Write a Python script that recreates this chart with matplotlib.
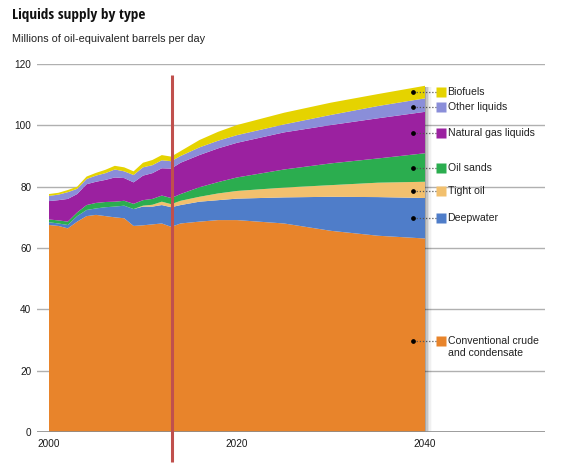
import numpy as np
import matplotlib.pyplot as plt
from matplotlib import font_manager

# ---- data ----
years = [2000, 2001, 2002, 2003, 2004, 2005, 2006, 2007, 2008, 2009, 2010,
         2011, 2012, 2013, 2014, 2016, 2018, 2020, 2025, 2030, 2035, 2040]

conventional = [67.5, 67.2, 66.4, 68.6, 70.4, 70.8, 70.4, 70.0, 69.7, 67.2, 67.4,
                67.7, 68.0, 66.9, 68.0, 68.6, 69.1, 69.1, 68.0, 65.6, 64.0, 63.1]
deepwater = [0.9, 0.8, 1.1, 1.8, 2.0, 2.1, 2.9, 3.5, 4.1, 5.5, 6.1,
             5.8, 6.0, 6.4, 6.0, 6.5, 6.5, 7.0, 8.5, 11.1, 12.6, 13.2]
tight_oil = [0, 0, 0, 0, 0, 0, 0, 0, 0, 0, 0.3,
             0.6, 1.1, 1.0, 1.4, 1.6, 2.2, 2.5, 3.2, 3.8, 4.7, 5.3]
oil_sands = [0.9, 1.0, 1.1, 1.2, 1.6, 1.8, 1.7, 1.6, 1.6, 1.7, 1.8,
             1.9, 2.0, 2.0, 2.2, 3.1, 3.7, 4.4, 5.9, 7.1, 7.9, 9.3]
ngl = [6.0, 6.6, 7.4, 6.0, 6.8, 6.9, 7.2, 7.9, 7.4, 7.0, 8.0,
       8.4, 8.9, 9.6, 10.2, 10.5, 11.0, 11.3, 12.1, 12.5, 13.1, 13.5]
other_liquids = [1.7, 1.8, 2.2, 1.7, 1.7, 2.0, 2.2, 2.6, 2.2, 2.4, 2.7,
                 2.6, 2.6, 2.4, 2.2, 2.5, 2.5, 2.5, 2.6, 3.3, 4.0, 4.4]
biofuels = [0.6, 0.6, 0.7, 0.7, 0.8, 0.9, 1.1, 1.2, 1.3, 1.2, 1.5,
            1.7, 1.7, 1.5, 1.6, 2.4, 2.9, 3.3, 3.8, 4.0, 3.9, 4.1]

labels = ['Conventional crude\nand condensate', 'Deepwater', 'Tight oil',
          'Oil sands', 'Natural gas liquids', 'Other liquids', 'Biofuels']
colors = ['#E8842B', '#4F7DC9', '#F2C06E', '#2BAD4F', '#9B21A0', '#8A8ED9', '#E5D300']
label_y = [29.7, 69.8, 78.6, 86.1, 97.5, 106.0, 110.9]
base_year = 2013.1

# pick a condensed face for the title if one is installed
installed = {f.name for f in font_manager.fontManager.ttflist}
title_font = 'Liberation Sans'
for cand in ['Liberation Sans Narrow', 'Noto Sans Condensed', 'DejaVu Sans Condensed',
             'Open Sans Condensed', 'Roboto Condensed']:
    if cand in installed:
        title_font = cand
        break

fig = plt.figure(figsize=(5.7, 4.65), dpi=100)
ax = fig.add_axes([37 / 570, 33 / 465, 508 / 570, 368 / 465])

# grid
for v in range(20, 121, 20):
    ax.axhline(v, color='#b0b0b0', lw=1, zorder=0)
ax.axhline(0, color='#8c8c8c', lw=1.2, zorder=4)

series = [conventional, deepwater, tight_oil, oil_sands, ngl, other_liquids, biofuels]
total = np.sum(series, axis=0)

# soft shadow on the right edge of the area
for i, a in enumerate([0.16, 0.11, 0.07, 0.04, 0.02]):
    ax.fill_between([2040, 2040 + 0.15 * (i + 1)], 0, total[-1] - 0.5,
                    color='k', alpha=a, lw=0, zorder=1)
ax.stackplot(years, series, colors=colors, lw=0, zorder=2)

# base year marker
ax.plot([base_year, base_year], [-9.8, 116.4], color='#C0504D', lw=2.2,
        solid_capstyle='butt', clip_on=False, zorder=5)

# legend with leader lines
for lab, col, yv in zip(labels, colors, label_y):
    ax.plot([2038.7, 2041.3], [yv, yv], ls=(0, (1, 1.5)), color='#555555', lw=0.9,
            zorder=6, clip_on=False)
    ax.plot(2038.7, yv, 'o', color='black', ms=2.4, zorder=7)
    ax.plot(2041.7, yv, 's', color=col, ms=6.5, mec='none', zorder=7)
    if '\n' in lab:
        ax.text(2042.4, yv + 1.5, lab, va='top', fontsize=7.6, color='#222222',
                family='Liberation Sans', linespacing=1.2)
    else:
        ax.text(2042.4, yv, lab, va='center', fontsize=7.6, color='#222222',
                family='Liberation Sans')

ax.set_xlim(2000 - 12 / 9.4, 2000 + 496 / 9.4)
ax.set_ylim(0, 120)
ax.set_yticks(range(0, 121, 20))
ax.set_xticks([2000, 2020, 2040])
ax.tick_params(length=0, labelsize=7.2, colors='#1a1a1a')
ax.tick_params(axis='y', pad=4)
ax.tick_params(axis='x', pad=5)
for t in ax.get_xticklabels() + ax.get_yticklabels():
    t.set_family('Liberation Sans')
for s in ax.spines.values():
    s.set_visible(False)

fig.text(12 / 570, 1 - 15 / 465, 'Liquids supply by type',
         fontsize=11 if title_font != 'Liberation Sans' else 10, weight='bold',
         family=title_font, va='center', color='#111111')
fig.text(12 / 570, 1 - 39 / 465, 'Millions of oil-equivalent barrels per day', fontsize=7.8,
         family='Liberation Sans', va='center', color='#222222')

fig.savefig('out.png', dpi=100)
